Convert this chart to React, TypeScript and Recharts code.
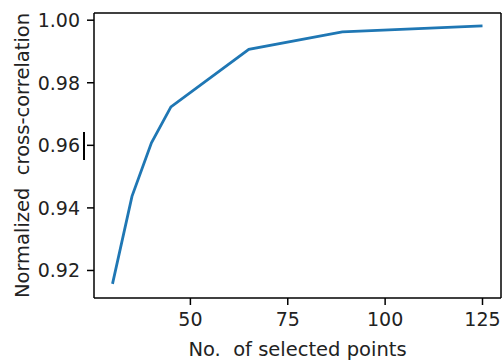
import React from "react";
import { LineChart, Line, XAxis, YAxis, ReferenceLine } from "recharts";

const points = [30, 35, 40, 45, 65, 89, 125];
const correlation = [0.9157, 0.9437, 0.9608, 0.9723, 0.9907, 0.9963, 0.9982];
const xTicks = [50, 75, 100, 125];
const yTicks = [0.92, 0.94, 0.96, 0.98, 1.0];

const X_DOMAIN: [number, number] = [25.25, 129.75];
const Y_DOMAIN: [number, number] = [0.9112, 1.0023];

const data = points.map((p, i) => ({ points: p, corr: correlation[i] }));

const FONT = "'DejaVu Sans', sans-serif";
const TEXT = "#222";
const tickStyle = { fontSize: 19, fill: TEXT, fontFamily: FONT };

export default function App() {
  return (
    <div style={{ position: "absolute", left: 0, top: 0, width: 503, height: 362, background: "#fff" }}>
      <LineChart
        width={503}
        height={362}
        data={data}
        margin={{ top: 13, right: 2, left: 0, bottom: 0 }}
      >
        <XAxis
          dataKey="points"
          type="number"
          domain={X_DOMAIN}
          ticks={xTicks}
          allowDataOverflow
          height={64}
          tickSize={7}
          tickMargin={8}
          stroke="#000"
          strokeWidth={1.5}
          tick={tickStyle}
          label={({ viewBox }: any) => (
            <text
              x={viewBox.x + viewBox.width / 2}
              y={356}
              textAnchor="middle"
              fontSize={19.5}
              fontFamily={FONT}
              fill={TEXT}
              xmlSpace="preserve"
            >
              {"No.\u00a0 of selected points"}
            </text>
          )}
        />
        <YAxis
          type="number"
          domain={Y_DOMAIN}
          ticks={yTicks}
          allowDataOverflow
          width={94}
          tickSize={7}
          tickMargin={7}
          stroke="#000"
          strokeWidth={1.5}
          tick={tickStyle}
          tickFormatter={(v: number) => v.toFixed(2)}
          label={({ viewBox }: any) => {
            const x = 29;
            const y = viewBox.y + viewBox.height / 2;
            return (
              <text
                x={x}
                y={y}
                transform={`rotate(-90, ${x}, ${y})`}
                textAnchor="middle"
                fontSize={19.5}
                fontFamily={FONT}
                fill={TEXT}
              >
                {"Normalized\u00a0 cross-correlation"}
              </text>
            );
          }}
        />
        {/* top and right spines */}
        <ReferenceLine y={Y_DOMAIN[1]} stroke="#000" strokeWidth={1.5} ifOverflow="visible" />
        <ReferenceLine x={X_DOMAIN[1]} stroke="#000" strokeWidth={1.5} ifOverflow="visible" />
        <Line
          dataKey="corr"
          stroke="#1f77b4"
          strokeWidth={2.8}
          dot={false}
          isAnimationActive={false}
        />
      </LineChart>
      {/* text cursor left in the screenshot */}
      <div style={{ position: "absolute", left: 83, top: 132, width: 1.5, height: 28, background: "#000" }} />
    </div>
  );
}
